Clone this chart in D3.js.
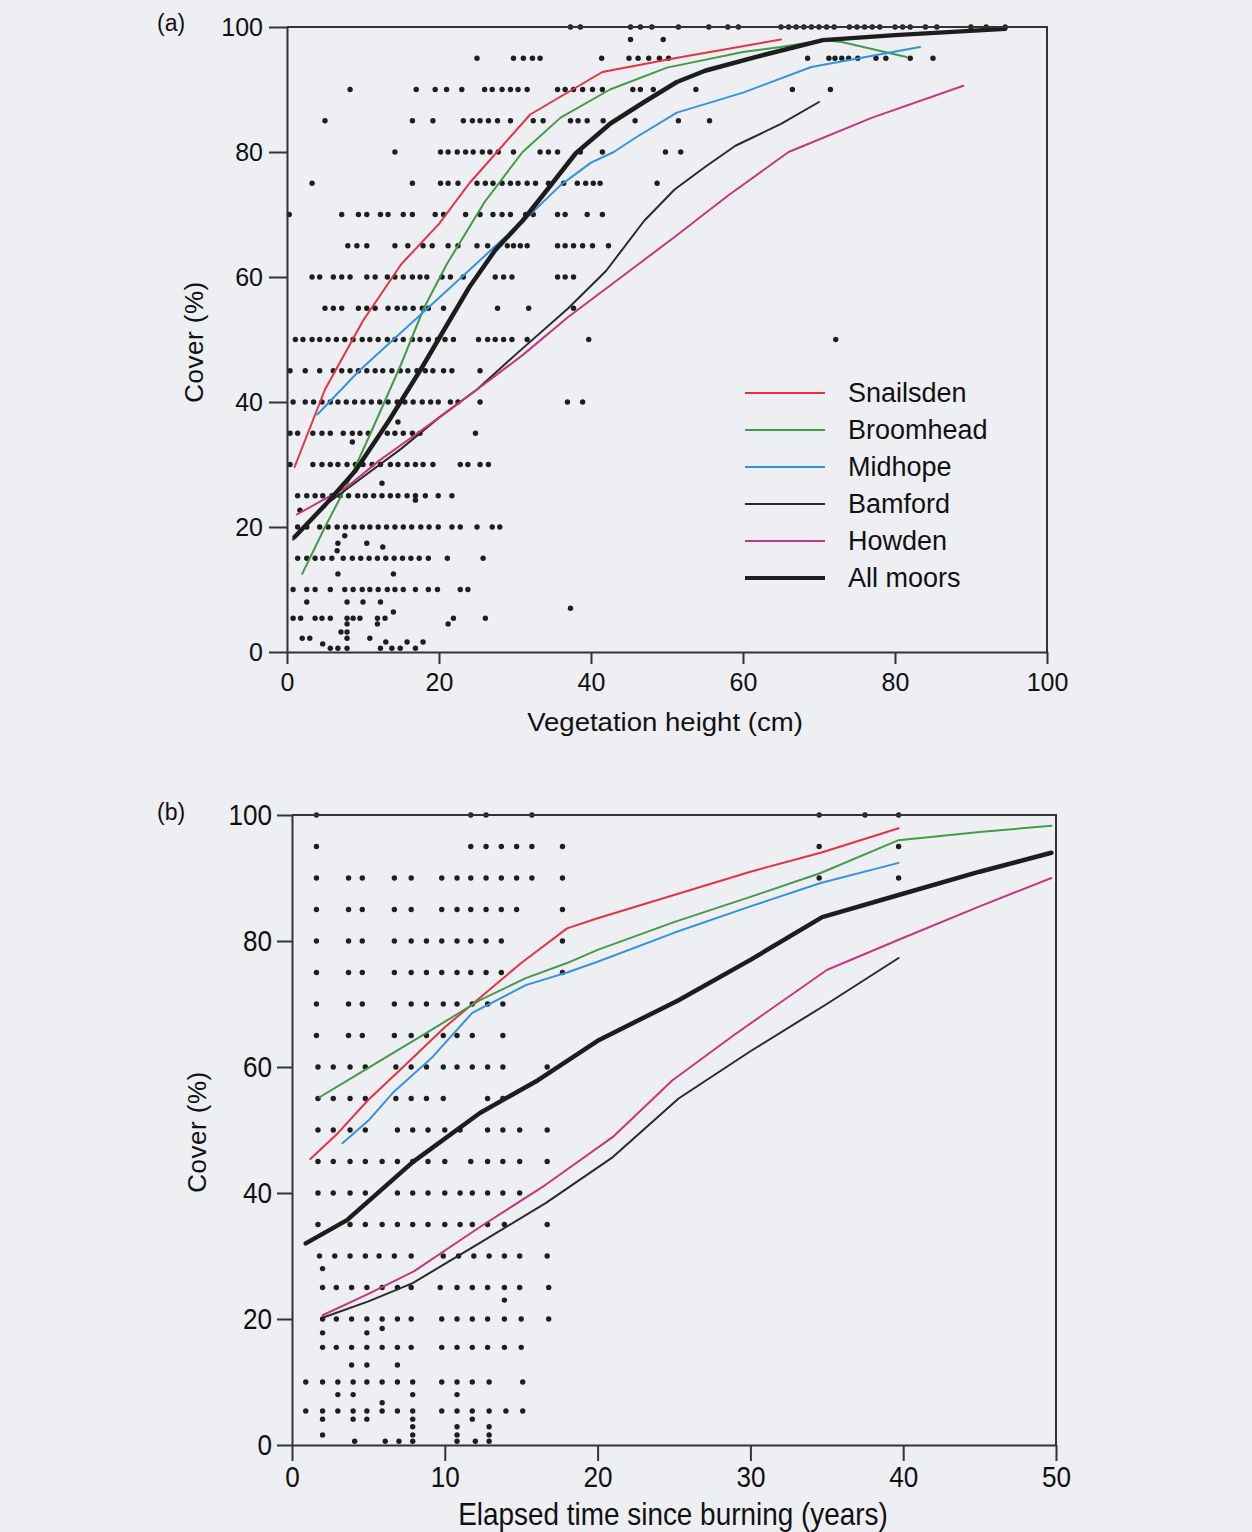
<!DOCTYPE html>
<html><head><meta charset="utf-8">
<script src="https://cdn.jsdelivr.net/npm/d3@7"></script>
<style>body{margin:0;background:#edeff3}svg{display:block}</style>
</head><body>
<script>
// ---------- DATA ----------
const moors = ["Snailsden","Broomhead","Midhope","Bamford","Howden","All moors"];
const ticksA_x = [0,20,40,60,80,100];
const ticksA_y = [0,20,40,60,80,100];
const ticksB_x = [0,10,20,30,40,50];
const ticksB_y = [0,20,40,60,80,100];

// Panel (a): cover vs vegetation height (cm)
const aSnailsden = [[1,29.6],[5,42],[10,53],[15,62],[20,68.5],[24,75],[32,86],[41.5,92.8],[51,95],[65,98]];
const aBroomhead = [[2,12.5],[5,20],[8,27],[11,35],[15,46],[18,55],[21,62],[24,68],[26,72],[31,80],[36,85.5],[42.5,90],[50,93.5],[60,96],[65,96.8],[70.5,97.9],[73,97.6],[81.5,95.2]];
const aMidhope = [[4,38],[9.5,45],[14,50],[18.5,55],[23,60],[28,65.6],[32,70],[36,74.7],[40,78.3],[43,80],[46,82.4],[51.3,86.3],[60,89.5],[69,93.6],[83.3,96.8]];
const aBamford = [[0.8,18],[5,23.5],[10,28],[15,32.5],[20,37.5],[25,42],[30,47.5],[37,55],[42,61],[47,69],[51,74],[55,77.6],[59,81],[65,84.5],[70,88]];
const aHowden = [[1.3,22],[5,24.5],[8,26.5],[12,30.5],[16,34],[20,37.5],[25,42],[31,47.5],[37,53.6],[44,60],[51,66.4],[58,73],[66,80],[77,85.5],[89,90.6]];
const aAll = [[1,18.4],[5,23.5],[9,29],[13.4,37],[17.8,45.6],[20.4,51],[24,58.4],[27.4,64.3],[31,69],[34,73.6],[38,79.8],[42.6,84.6],[47,88],[51.3,91.2],[55,93],[62,95.3],[70.5,97.9],[80,98.7],[94.5,99.7]];

// Panel (a) observations: [cover %, heights (cm)]
const aDots = [
 [100,[37.3,38.6,45.2,46.5,48,51.5,55.5,58,59.4,65,66,67,68,69,70,71,72,74,75,76,77,78,80,81,82,84,85.5,90,92,94.5]],
 [98,[45.2,49.5]],
 [95,[25,29.8,31.1,32.3,33.3,41.4,45,46.2,47.6,49,50.2,68.5,71.3,72.1,73,73.9,75.1,77.5,78.8,82,85]],
 [90,[8.3,17,19.5,21,23,26,27,28.3,29.4,30.4,31.6,35.6,36.6,37.7,38.9,40.2,41.5,45.5,46.5,48.2,53.8,66.5,71.5]],
 [85,[5,16.5,19.2,23.2,24.4,25.4,26.5,27.7,29.4,32.4,33.7,37.3,38.3,39.5,41.6,45.8,51.5,55.6]],
 [80,[14.2,20.2,21.2,22.4,23.5,24.5,25.7,26.7,27.8,29.8,33.3,34.4,35.6,38.6,41.5,49.8,51.8]],
 [75,[3.3,16.5,20.2,21.2,22.5,25,26.1,27.1,28.3,29.4,30.4,31.6,32.7,34.4,36.4,38.2,39.3,40.3,41.2,48.7]],
 [70,[0.3,7.2,9.4,10.5,12.3,13.3,15.3,16.5,19.5,20.6,23.5,25.4,27.1,28.3,29.4,31.4,32.4,35.6,36.6,39.5,41.5]],
 [65,[8,9.2,10.5,14.2,15.9,17.9,19.1,21.2,22.5,25,26.4,29,29.8,30.7,31.6,35.6,36.6,37.7,38.9,40.2,42.3]],
 [60,[3.3,4.3,6.1,7.2,8.3,10.5,11.6,13.2,14.2,15.3,16.5,17.5,18.4,20.4,21.5,23.2,27.4,28.5,29.6,35.6,36.6,37.7]],
 [55,[5,6.1,7.2,9.4,10.5,11.6,13.3,14.5,15.5,16.6,17.8,18.6,20.6,27.7,31.8,37.7]],
 [50,[1.1,2.1,3.3,4.3,5.4,6.5,7.6,8.7,9.9,10.9,12,13.2,14.2,15.3,16.5,17.5,18.6,19.8,20.8,21.9,25.2,26.4,27.4,28.5,29.6,31.6,39.7,72.2]],
 [45,[0.4,2.4,4.3,6.1,7.2,8.3,9.4,10.5,11.6,12.6,13.8,14.9,15.9,17.1,18.2,19.2,20.6,21.7,25.4]],
 [40,[0.8,2.4,3.5,4.6,5.7,6.7,7.8,8.9,10,11.1,12.2,13.3,14.5,15.5,16.6,17.8,18.9,19.9,21.5,22.5,25.4,36.9,38.9]],
 [36.8,[14.6]],
 [35,[0.4,1.4,3.4,4.6,5.7,7.4,8.6,9.6,10.7,13.2,14.2,15.3,16.5,17.5,24.8]],
 [33.6,[8.6]],
 [30,[0.4,3.4,4.6,5.7,6.7,7.9,9,10,11.2,12.3,13.6,14.6,15.8,16.9,17.9,19.2,22.8,23.8,25.4,26.5]],
 [27,[12.5]],
 [25,[1.4,2.6,3.7,4.7,5.9,7,8.1,9.3,10.3,11.4,12.5,13.6,14.6,15.8,16.9,18.2,19.9,21.7]],
 [24.3,[16.9]],
 [22.7,[1.7]],
 [20,[1.4,2.6,4.3,5.4,6.6,7.7,8.8,9.9,10.9,12,13.1,14.2,15.3,16.4,17.6,18.7,19.9,21.7,22.8,25,27,28]],
 [18.6,[7.6]],
 [17.4,[6.7,10.5]],
 [16.8,[12.6]],
 [16.2,[6.6]],
 [15,[1.4,2.6,3.7,4.7,5.9,7.4,8.6,9.7,10.8,11.9,13,14.1,15.2,16.3,17.4,18.6,21.1,25.8]],
 [12.5,[6.7,14]],
 [10,[0.8,2.6,3.7,5.7,7.6,8.7,9.9,10.9,12,13.2,14.2,15.3,16.9,18.6,19.8,22.8,23.8]],
 [8,[2.6,7.9,10,12.3]],
 [7,[37.3]],
 [6.4,[14]],
 [5.4,[0.8,1.8,3.7,4.6,5.7,7.9,8.7,9.6,11.9,12.9,21.9,26.1]],
 [4.5,[7.9,11.9,21.2]],
 [3.2,[7.1,7.9]],
 [2.2,[2,3,7.9,10.9]],
 [1.6,[13,15.8,17.9]],
 [1.3,[4.7]],
 [0.6,[5.7,6.7,7.9,12.3,13.8,14.9,16.9]]
];

// Panel (b): cover vs elapsed time since burning (years)
const bSnailsden = [[1.2,45.4],[3,49.5],[5,54.8],[7.5,60.5],[10,66.3],[12.3,71],[15,76.5],[18,82],[20,83.6],[25,87.3],[30,91],[34.6,94],[39.7,97.9]];
const bBroomhead = [[1.8,55.2],[4.4,59],[8.8,65.4],[12.3,70.6],[15.3,74.1],[18,76.5],[20,78.6],[25,83],[30,87],[34.6,90.8],[39.7,96],[45,97.3],[49.7,98.3]];
const bMidhope = [[3.3,47.9],[5,51.5],[6.6,55.9],[9.2,61.6],[11.8,68.6],[15.3,73],[18,75],[20,76.7],[25,81.3],[30,85.5],[34.6,89.2],[39.7,92.4]];
const bBamford = [[2,20.2],[5,22.8],[7.9,25.7],[12.3,32.1],[16.6,38.4],[21,45.7],[25.3,55],[30,62.5],[35,70],[39.7,77.3]];
const bHowden = [[2,20.6],[5,24],[8,27.6],[12.3,34.6],[16.6,41.3],[21,48.9],[24.9,57.9],[29,65.2],[35,75.4],[39.7,80.2],[45,85.5],[49.7,90]];
const bAll = [[0.9,32],[3.6,35.7],[7.9,44.9],[12.3,52.7],[16.1,57.9],[20.1,64.3],[25.3,70.6],[30,77],[34.7,83.8],[39.7,87.3],[45,91],[49.7,94]];

// Panel (b) observations: [cover %, years]
const bDots = [
 [100,[1.6,11.7,12.7,15.7,34.5,37.5,39.7]],
 [95,[1.6,11.7,12.7,13.7,14.7,15.7,17.7,34.5,39.7]],
 [90,[1.6,3.7,4.6,6.7,7.8,9.8,10.8,11.7,12.7,13.7,14.7,15.7,17.7,34.5,39.7]],
 [85,[1.6,3.7,4.6,6.7,7.8,9.8,10.8,11.7,12.7,13.7,14.7,17.7]],
 [80,[1.6,3.7,4.6,6.7,7.8,8.8,9.8,10.8,11.7,12.7,13.7,17.7]],
 [75,[1.6,3.7,4.6,6.7,7.8,8.8,9.8,10.8,11.7,12.7,13.7,17.7]],
 [70,[1.6,3.7,4.6,6.7,7.8,8.8,9.9,10.8,11.8,12.8,13.8]],
 [65,[1.6,3.7,4.6,6.7,7.8,8.8,9.9,10.8,11.8,13.8]],
 [60,[1.7,2.7,3.8,4.8,6.8,7.8,8.8,9.9,10.8,11.8,12.8,13.8,16.7]],
 [55,[1.7,2.7,3.8,4.8,6.8,7.8,8.8,9.9,12.8,13.8]],
 [50,[1.7,2.7,3.8,4.8,6.9,7.9,8.9,10,11,12.8,13.8,14.9,16.7]],
 [45,[1.7,2.7,3.8,4.8,5.9,6.9,7.9,8.9,10,11.7,12.8,13.8,14.9,16.7]],
 [40,[1.7,2.7,3.8,4.8,6.9,7.9,8.9,10,11,11.8,12.8,13.8,14.9]],
 [35,[1.7,3.8,4.8,5.9,6.9,7.9,8.9,10,11,11.8,12.8,13.9,16.7]],
 [30,[1.8,2.8,3.8,4.8,5.7,6.7,7.8,9.9,10.9,11.9,12.9,13.9,14.9,16.7]],
 [28,[2.0]],
 [25,[2.0,2.9,3.9,4.9,5.9,6.9,7.8,9.7,10.8,11.8,12.8,13.9,14.9,16.8]],
 [23,[13.9]],
 [20,[2.0,2.9,3.9,4.9,5.9,6.9,7.8,9.8,10.8,11.8,12.8,13.9,15,16.8]],
 [18.5,[5.9]],
 [17.8,[2.0,4.9]],
 [15.5,[2.0,2.9,3.9,4.9,5.9,6.9,7.8,9.8,10.8,11.8,12.8,13.9,15]],
 [12.7,[3.9,4.9,6.9]],
 [10,[0.9,2.0,3.0,4.0,4.9,5.9,6.9,7.9,9.8,10.8,11.8,12.9,15.1]],
 [8,[3.0,4.0,7.9,10.8]],
 [6.7,[5.9]],
 [5.4,[0.9,2.0,3.0,4.0,4.9,5.9,6.9,7.9,9.8,10.8,11.8,12.9,14,15.1]],
 [4.1,[2.0,4.0,4.9,7.9,11.8]],
 [2.9,[7.9,10.8,12.9]],
 [1.6,[2.0,7.9,10.8,12.9]],
 [0.6,[4.1,6.1,7,7.9,10.8,12,12.9]]
];

// ---------- DRAW ----------
const W = 1252, H = 1532;
const colors = {"Snailsden":"#e8333f","Broomhead":"#449a48","Midhope":"#3393e2","Bamford":"#2a2a2a","Howden":"#cc3483","All moors":"#1d1d1d"};
const widths = {"Snailsden":2,"Broomhead":2,"Midhope":2,"Bamford":2,"Howden":2,"All moors":4.5};
const axisCol = "#333";
const font = "'Liberation Sans', Arial, sans-serif";

const svg = d3.select("body").append("svg").attr("width", W).attr("height", H);
svg.append("rect").attr("width", W).attr("height", H).attr("fill", "#edeff3");

// horizontally scale a text element about its own x anchor
function squeeze(sel, s) {
  sel.each(function () {
    const tx = +this.getAttribute("x") || 0;
    d3.select(this).attr("transform", `translate(${tx * (1 - s)},0) scale(${s},1)`);
  });
}

function panel(cfg) {
  const g = svg.append("g");
  const x = d3.scaleLinear().domain(cfg.xd).range(cfg.xr);
  const y = d3.scaleLinear().domain([0,100]).range(cfg.yr);

  const pts = [];
  cfg.dots.forEach(([c, xs]) => xs.forEach(v => pts.push([v, c])));
  g.append("g").selectAll("circle").data(pts).join("circle")
    .attr("cx", d => x(d[0])).attr("cy", d => y(d[1])).attr("r", 2.7).attr("fill", "#1e1e1e");

  const line = d3.line().x(d => x(d[0])).y(d => y(d[1]));
  cfg.series.forEach((s, i) => {
    g.append("path").attr("d", line(s)).attr("fill", "none")
      .attr("stroke", colors[moors[i]]).attr("stroke-width", widths[moors[i]])
      .attr("stroke-linejoin", "round").attr("stroke-linecap", "round");
  });

  g.append("path").attr("d", `M${cfg.xr[0]},${cfg.yr[1]}H${cfg.xr[1]}V${cfg.yr[0]}`)
    .attr("fill", "none").attr("stroke", axisCol).attr("stroke-width", 2);

  const ax = g.append("g").attr("transform", `translate(0,${cfg.yr[0]})`)
    .call(d3.axisBottom(x).tickValues(cfg.xt).tickSize(cfg.xtick).tickSizeOuter(0).tickPadding(cfg.xpad));
  const ay = g.append("g").attr("transform", `translate(${cfg.xr[0]},0)`)
    .call(d3.axisLeft(y).tickValues(cfg.yt).tickSize(cfg.ytick).tickSizeOuter(0).tickPadding(cfg.ypad));
  [ax, ay].forEach(a => {
    a.select(".domain").attr("stroke", axisCol).attr("stroke-width", 2);
    a.selectAll(".tick line").attr("stroke", axisCol).attr("stroke-width", 2);
    const t = a.selectAll(".tick text").attr("fill", "#111").style("font-family", font).style("font-size", cfg.tsize + "px");
    squeeze(t, cfg.tscale);
  });

  const xt = g.append("text").attr("x", cfg.xtitle[0]).attr("y", cfg.xtitle[1]).attr("text-anchor", "middle")
    .style("font-family", font).style("font-size", cfg.xsize + "px").attr("fill", "#111").text(cfg.xlabel);
  squeeze(xt, cfg.xscale);
  g.append("text").attr("transform", `translate(${cfg.ytitle[0]},${cfg.ytitle[1]}) rotate(-90)`).attr("text-anchor", "middle")
    .style("font-family", font).style("font-size", "26px").style("letter-spacing", "0.5px").attr("fill", "#111").text("Cover (%)");
  g.append("text").attr("x", cfg.tag[0]).attr("y", cfg.tag[1])
    .style("font-family", font).style("font-size", "23px").attr("fill", "#111").text(cfg.tagText);
  return {x, y, g};
}

panel({
  xd: [0,100], xr: [287,1047], yr: [652,27],
  dots: aDots, series: [aSnailsden,aBroomhead,aMidhope,aBamford,aHowden,aAll],
  xt: ticksA_x, yt: ticksA_y, xtick: 12, xpad: 9, ytick: 18, ypad: 6,
  tsize: 25, tscale: 1,
  xlabel: "Vegetation height (cm)", xtitle: [665, 731], xsize: 26, xscale: 1.06,
  ytitle: [203, 342], tag: [157, 31], tagText: "(a)"
});

panel({
  xd: [0,50], xr: [292,1056], yr: [1445,815],
  dots: bDots, series: [bSnailsden,bBroomhead,bMidhope,bBamford,bHowden,bAll],
  xt: ticksB_x, yt: ticksB_y, xtick: 16, xpad: 5, ytick: 15, ypad: 5,
  tsize: 30, tscale: 0.87,
  xlabel: "Elapsed time since burning (years)", xtitle: [673, 1525], xsize: 31, xscale: 0.9,
  ytitle: [206, 1132], tag: [157, 820], tagText: "(b)"
});

// legend (panel a)
const leg = svg.append("g");
moors.forEach((m, i) => {
  const yy = 393 + i * 37;
  leg.append("line").attr("x1", 745).attr("x2", 825).attr("y1", yy).attr("y2", yy)
    .attr("stroke", colors[m]).attr("stroke-width", m === "All moors" ? 4 : 2);
  leg.append("text").attr("x", 848).attr("y", yy).attr("dy", "0.35em")
    .style("font-family", font).style("font-size", "27px").attr("fill", "#111").text(m);
});
</script>
</body></html>
